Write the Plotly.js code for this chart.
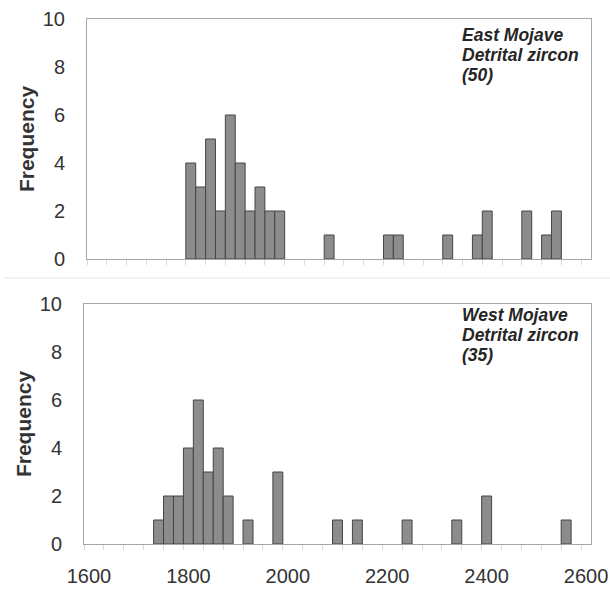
<!DOCTYPE html>
<html>
<head>
<meta charset="utf-8">
<script src="https://cdn.plot.ly/plotly-3.0.1.min.js"></script>
<style>html,body{margin:0;padding:0;background:#fff;}#chart{width:610px;height:589px;}</style>
</head>
<body>
<div id="chart"></div>
<script>
// East Mojave detrital zircon histogram (bin centres, 20 Ma bins)
const eastBins = [1800,1820,1840,1860,1880,1900,1920,1940,1960,1980,2080,2200,2220,2320,2380,2400,2480,2520,2540];
const eastCounts = [4,3,5,2,6,4,2,3,2,2,1,1,1,1,1,2,2,1,2];
// West Mojave detrital zircon histogram
const westBins = [1740,1760,1780,1800,1820,1840,1860,1880,1920,1980,2100,2140,2240,2340,2400,2560];
const westCounts = [1,2,2,4,6,3,4,2,1,3,1,1,1,1,2,1];
const xTicks = [1600,1800,2000,2200,2400,2600];
const yTicks = [0,2,4,6,8,10];
const eastLabel = ["East Mojave","Detrital zircon","(50)"];
const westLabel = ["West Mojave","Detrital zircon","(35)"];

const W = 610, H = 589;
const px = v => v / W;
const py = v => (H - v) / H;

const barStyle = {color:'#8c8c8c', line:{color:'#454545', width:1}};
const traces = [
  {type:'bar', x:eastBins, y:eastCounts, width:20, marker:barStyle, xaxis:'x', yaxis:'y', hoverinfo:'x+y'},
  {type:'bar', x:westBins, y:westCounts, width:20, marker:barStyle, xaxis:'x2', yaxis:'y2', hoverinfo:'x+y'}
];

const FAM = 'Liberation Sans, Arial, sans-serif';
const tickFont = {family:FAM, size:20, color:'#333333'};
const titleFont = {family:FAM, size:21, color:'#333333', weight:'bold'};
function xAxis(domain, anchor, showLabels){
  return {
    domain: domain, anchor: anchor, range:[1590,2610], autorange:false,
    showgrid:false, zeroline:false, showline:true, mirror:true, linecolor:'#a6a6a6', linewidth:1,
    tickmode:'array', tickvals:xTicks, ticktext:xTicks.map(String), ticks:'',
    showticklabels: showLabels, tickfont: tickFont, ticklabelstandoff: 14,
    minor:{tickmode:'linear', tick0:1590, dtick:40, ticks:'outside', ticklen:5, tickcolor:'#d9d9d9', tickwidth:1, showgrid:false},
    fixedrange:true
  };
}
function yAxis(domain, anchor){
  return {
    domain: domain, anchor: anchor, range:[0,10], autorange:false,
    showgrid:false, zeroline:false, showline:true, mirror:true, linecolor:'#a6a6a6', linewidth:1,
    tickmode:'array', tickvals:yTicks, ticktext:yTicks.map(String), ticks:'',
    tickfont: tickFont, ticklabelstandoff: 17,
    title:{text:'Frequency', font:titleFont, standoff:2},
    fixedrange:true
  };
}

function labelLines(lines, topPx){
  return lines.map((t, i) => ({
    xref:'paper', yref:'paper', x:px(461), y:py(topPx + i*20), xanchor:'left', yanchor:'top', align:'left',
    showarrow:false, borderpad:0,
    text:'<b><i>'+t+'</i></b>', font:{family:FAM, size:17.5, color:'#262626'}
  }));
}

const layout = {
  width:W, height:H, margin:{l:0,r:0,t:0,b:0},
  paper_bgcolor:'#ffffff', plot_bgcolor:'#ffffff',
  showlegend:false, bargap:0,
  xaxis: xAxis([px(87), px(591)], 'y', false),
  yaxis: yAxis([py(259), py(19)], 'x'),
  xaxis2: xAxis([px(84), px(591)], 'y2', true),
  yaxis2: yAxis([py(544), py(304)], 'x2'),
  shapes:[
    {type:'line', xref:'paper', yref:'paper', x0:px(3), x1:1, y0:py(278), y1:py(278), line:{color:'#e6e6e6', width:1}}
  ],
  annotations: labelLines(eastLabel, 24).concat(labelLines(westLabel, 304))
};

Plotly.newPlot('chart', traces, layout, {staticPlot:true, displayModeBar:false});
</script>
</body>
</html>
